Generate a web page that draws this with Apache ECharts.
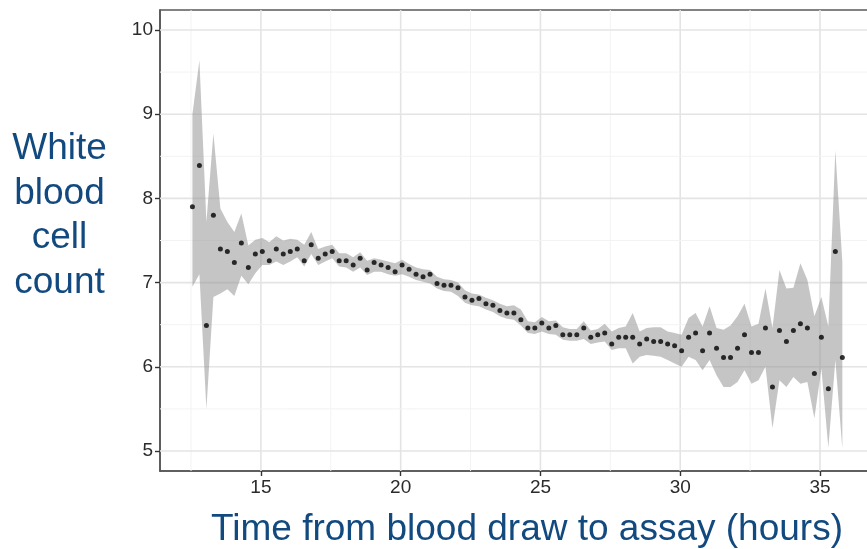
<!DOCTYPE html>
<html>
<head>
<meta charset="utf-8">
<script src="https://cdn.jsdelivr.net/npm/echarts@6/dist/echarts.min.js"></script>
<style>
  html, body { margin: 0; padding: 0; background: #fff; }
  #chart { width: 867px; height: 549px; }
</style>
</head>
<body>
<div id="chart"></div>
<script>
// hours from draw to assay
const hours = [
  12.55, 12.80, 13.05, 13.30, 13.55, 13.80, 14.05, 14.30, 14.55, 14.80,
  15.05, 15.30, 15.55, 15.80, 16.05, 16.30, 16.55, 16.80, 17.05, 17.30,
  17.55, 17.80, 18.05, 18.30, 18.55, 18.80, 19.05, 19.30, 19.55, 19.80,
  20.05, 20.30, 20.55, 20.80, 21.05, 21.30, 21.55, 21.80, 22.05, 22.30,
  22.55, 22.80, 23.05, 23.30, 23.55, 23.80, 24.05, 24.30, 24.55, 24.80,
  25.05, 25.30, 25.55, 25.80, 26.05, 26.30, 26.55, 26.80, 27.05, 27.30,
  27.55, 27.80, 28.05, 28.30, 28.55, 28.80, 29.05, 29.30, 29.55, 29.80,
  30.05, 30.30, 30.55, 30.80, 31.05, 31.30, 31.55, 31.80, 32.05, 32.30,
  32.55, 32.80, 33.05, 33.30, 33.55, 33.80, 34.05, 34.30, 34.55, 34.80,
  35.05, 35.30, 35.55, 35.80
];
// mean white blood cell count
const wbc = [
  7.90, 8.39, 6.49, 7.80, 7.40, 7.37, 7.24, 7.47, 7.18, 7.34,
  7.37, 7.26, 7.40, 7.34, 7.37, 7.40, 7.26, 7.45, 7.29, 7.34,
  7.37, 7.26, 7.26, 7.21, 7.29, 7.15, 7.24, 7.21, 7.18, 7.13,
  7.21, 7.16, 7.10, 7.07, 7.10, 6.99, 6.97, 6.97, 6.94, 6.83,
  6.79, 6.81, 6.75, 6.73, 6.67, 6.64, 6.64, 6.56, 6.46, 6.46,
  6.52, 6.46, 6.49, 6.38, 6.38, 6.38, 6.46, 6.35, 6.38, 6.40,
  6.27, 6.35, 6.35, 6.35, 6.27, 6.33, 6.30, 6.30, 6.27, 6.25,
  6.19, 6.35, 6.40, 6.19, 6.40, 6.22, 6.11, 6.11, 6.22, 6.38,
  6.17, 6.17, 6.46, 5.76, 6.43, 6.30, 6.43, 6.51, 6.46, 5.92,
  6.35, 5.74, 7.37, 6.11
];
// confidence band
const lower = [
  6.95, 7.10, 5.50, 6.83, 6.87, 6.92, 6.84, 7.08, 6.98, 7.11,
  7.21, 7.21, 7.25, 7.21, 7.25, 7.30, 7.19, 7.34, 7.21, 7.25,
  7.29, 7.19, 7.18, 7.13, 7.18, 7.09, 7.13, 7.13, 7.10, 7.08,
  7.10, 7.07, 7.03, 7.01, 6.99, 6.93, 6.90, 6.89, 6.84, 6.76,
  6.73, 6.72, 6.68, 6.65, 6.60, 6.57, 6.56, 6.49, 6.40, 6.39,
  6.42, 6.39, 6.38, 6.32, 6.31, 6.31, 6.33, 6.27, 6.29, 6.30,
  6.20, 6.22, 6.22, 6.04, 6.12, 6.14, 6.13, 6.12, 6.08, 6.04,
  6.00, 6.12, 6.08, 5.96, 6.08, 5.90, 5.76, 5.76, 5.82, 5.96,
  5.80, 5.84, 6.00, 5.27, 5.84, 5.76, 5.88, 5.80, 5.82, 5.39,
  5.98, 5.04, 6.08, 5.03
];
const upper = [
  9.00, 9.64, 7.72, 8.77, 7.88, 7.72, 7.60, 7.82, 7.44, 7.51,
  7.53, 7.48, 7.55, 7.50, 7.52, 7.51, 7.45, 7.60, 7.40, 7.43,
  7.45, 7.35, 7.35, 7.30, 7.36, 7.26, 7.29, 7.27, 7.25, 7.23,
  7.27, 7.22, 7.18, 7.16, 7.15, 7.07, 7.04, 7.03, 7.00, 6.91,
  6.87, 6.86, 6.82, 6.79, 6.75, 6.72, 6.73, 6.68, 6.54, 6.53,
  6.59, 6.54, 6.55, 6.47, 6.45, 6.45, 6.54, 6.43, 6.45, 6.51,
  6.42, 6.46, 6.48, 6.64, 6.42, 6.46, 6.47, 6.47, 6.42, 6.40,
  6.38, 6.58, 6.64, 6.48, 6.72, 6.46, 6.44, 6.49, 6.60, 6.75,
  6.48, 6.51, 6.93, 6.46, 7.15, 6.93, 6.94, 7.23, 7.03, 6.60,
  6.83, 6.48, 8.57, 7.25
];

const xTicks = [15, 20, 25, 30, 35];
const xMinor = [12.5, 17.5, 22.5, 27.5, 32.5];
const yTicks = [5, 6, 7, 8, 9, 10];
const yMinor = [5.5, 6.5, 7.5, 8.5, 9.5];

const xMin = 11.39, xMax = 37.04;
const yMin = 4.7625, yMax = 10.2375;

const chart = echarts.init(document.getElementById('chart'));

function gridLine(vertical) {
  return function (params, api) {
    const v = api.value(0);
    const major = api.value(1) === 1;
    const a = vertical ? api.coord([v, yMin]) : api.coord([xMin, v]);
    const b = vertical ? api.coord([v, yMax]) : api.coord([xMax, v]);
    return {
      type: 'line',
      shape: { x1: a[0], y1: a[1], x2: b[0], y2: b[1] },
      style: { stroke: major ? '#e4e4e4' : '#f3f3f3', lineWidth: major ? 1.6 : 1 }
    };
  };
}

const bandData = hours.map((h, i) => [h, lower[i], upper[i]]);

const option = {
  animation: false,
  grid: {
    left: 160, top: 10, width: 717, height: 461,
    show: true, borderColor: '#5a5a5a', borderWidth: 1.5,
    outerBoundsMode: 'none'
  },
  xAxis: {
    type: 'value', min: xMin, max: xMax,
    axisLine: { lineStyle: { color: '#555', width: 1.6 } },
    axisTick: { customValues: xTicks, length: 5, lineStyle: { color: '#333', width: 1.4 } },
    axisLabel: { customValues: xTicks, margin: 7, fontSize: 19, color: '#2b2b2b', fontFamily: 'Liberation Sans' },
    splitLine: { show: false }
  },
  yAxis: {
    type: 'value', min: yMin, max: yMax,
    axisLine: { show: true, lineStyle: { color: '#555', width: 1.6 } },
    axisTick: { show: true, customValues: yTicks, length: 5, lineStyle: { color: '#333', width: 1.4 } },
    axisLabel: { customValues: yTicks, margin: 7, fontSize: 19, color: '#2b2b2b', fontFamily: 'Liberation Sans' },
    splitLine: { show: false }
  },
  graphic: [
    {
      type: 'text', x: 59.5, y: 215.8, silent: true,
      style: {
        text: 'White\nblood\ncell\ncount', fill: '#124a80',
        font: '37px "Liberation Sans"', lineHeight: 44.7,
        align: 'center', verticalAlign: 'middle'
      }
    },
    {
      type: 'text', x: 527, y: 530, silent: true,
      style: {
        text: 'Time from blood draw to assay (hours)', fill: '#124a80',
        font: '37px "Liberation Sans"',
        align: 'center', verticalAlign: 'middle'
      }
    }
  ],
  series: [
    {
      type: 'custom', z: 1, silent: true, clip: true,
      data: xTicks.map(v => [v, 1]).concat(xMinor.map(v => [v, 0])),
      renderItem: gridLine(true)
    },
    {
      type: 'custom', z: 1, silent: true, clip: true,
      data: yTicks.map(v => [v, 1]).concat(yMinor.map(v => [v, 0])),
      renderItem: gridLine(false)
    },
    {
      type: 'custom', z: 2, silent: true, clip: true,
      data: bandData,
      encode: { x: 0, y: [1, 2] },
      renderItem: function (params, api) {
        if (params.dataIndex !== 0) return null;
        const top = bandData.map(d => api.coord([d[0], d[2]]));
        const bottom = bandData.map(d => api.coord([d[0], d[1]])).reverse();
        return {
          type: 'polygon',
          shape: { points: top.concat(bottom) },
          style: { fill: 'rgba(150,150,150,0.55)' }
        };
      }
    },
    {
      type: 'scatter', z: 3, symbol: 'circle', symbolSize: 5,
      itemStyle: { color: '#000' },
      data: hours.map((h, i) => [h, wbc[i]])
    }
  ]
};

chart.setOption(option);
</script>
</body>
</html>
